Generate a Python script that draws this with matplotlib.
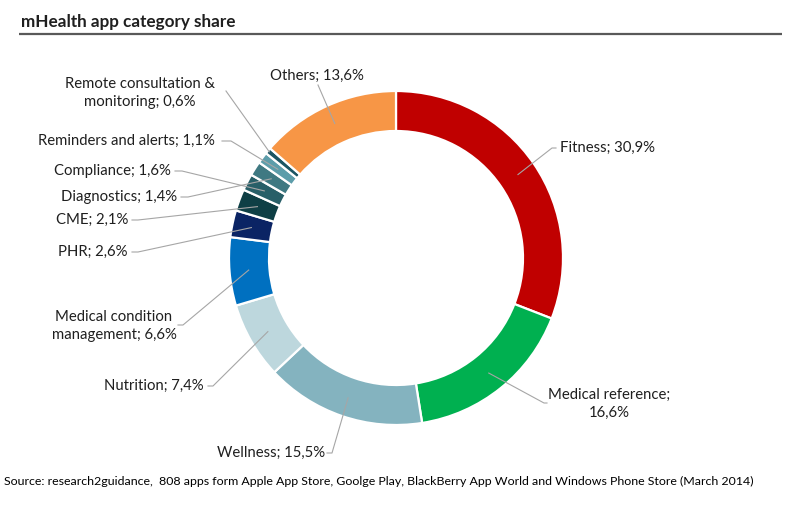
import matplotlib
matplotlib.use('Agg')
import matplotlib.pyplot as plt
import numpy as np

# ---------------- data ----------------
categories = ["Fitness", "Medical reference", "Wellness", "Nutrition",
              "Medical condition\nmanagement", "PHR", "CME", "Compliance",
              "Diagnostics", "Reminders and alerts",
              "Remote consultation &\nmonitoring", "Others"]
shares = [30.9, 16.6, 15.5, 7.4, 6.6, 2.6, 2.1, 1.6, 1.4, 1.1, 0.6, 13.6]
label_seps = [" ", "\n", " ", " ", " ", " ", " ", " ", " ", " ", " ", " "]
colors = ["#C00000", "#00B050", "#84B3BF", "#BDD7DD", "#0070C0", "#0B2464",
          "#0E3F45", "#285F68", "#3F7982", "#5D9DAA", "#1B5563", "#F79646"]

title = "mHealth app category share"
source = ("Source: research2guidance,  808 apps form Apple App Store, Goolge Play, "
          "BlackBerry App World and Windows Phone Store (March 2014)")

# ---------------- layout (pixels, y measured from top) ----------------
W, H = 800, 505
CX, CY, R, RING = 396, 258, 167, 40
# (text x, text y, ha, anchor x, anchor y, elbow dx, radial factor)
layout = [
    (560, 148, "left",   556, 148, -4, 0.885),   # Fitness
    (609, 404, "center", 547, 403, -3, 0.885),   # Medical reference
    (271, 453, "center", 327, 453,  5, 0.885),   # Wellness
    (204, 386, "right",  208, 386,  5, 0.885),   # Nutrition
    (114, 326, "center", 178, 325,  5, 0.885),   # MCM
    (128, 252, "right",  132, 252,  6, 0.885),   # PHR
    (128, 220, "right",  132, 220,  6, 0.885),   # CME
    (171, 171, "right",  175, 171,  7, 0.885),   # Compliance
    (177, 197, "right",  181, 197,  7, 0.885),   # Diagnostics
    (215, 141, "right",  222, 141,  9, 0.885),   # Reminders
    (140, 93,  "center", 226, 91,   0, 0.99),    # Remote
    (317, 76,  "center", 318, 85,   0, 0.885),   # Others
]

def P(x, y):
    return x, H - y

FONT = "Lato"
TXT = "#1f1f1f"

fig = plt.figure(figsize=(W / 100, H / 100), dpi=100)
ax = fig.add_axes([0, 0, 1, 1])
ax.set_axis_off()

wedges, _ = ax.pie(shares, colors=colors, startangle=90, counterclock=False,
                   radius=R, center=P(CX, CY),
                   wedgeprops=dict(width=RING, edgecolor="white", linewidth=1.6))
ax.set_xlim(0, W)
ax.set_ylim(0, H)
ax.set_aspect("equal", adjustable="box")

renderer = fig.canvas.get_renderer()

def fit(txt, target):
    bb = txt.get_window_extent(renderer)
    txt.set_fontsize(txt.get_fontsize() * target / bb.width)

# title and rule
t = ax.text(*P(21, 22), title, fontfamily=FONT, fontweight="bold", fontsize=12,
            color=TXT, ha="left", va="center")
fit(t, 214)
ax.plot([19, 782], [H - 34, H - 34], color="#595959", lw=1.6, solid_capstyle="butt")

# source
s = ax.text(*P(4, 481), source, fontfamily=FONT, fontsize=10, color="#000000",
            ha="left", va="center")
fit(s, 755)

# label font size from reference width of "Fitness; 30,9%"
def fmt(v):
    return f"{v:.1f}".replace(".", ",") + "%"

probe = ax.text(0, 0, categories[0] + ";" + label_seps[0] + fmt(shares[0]),
                fontfamily=FONT, fontsize=10)
fit(probe, 95)
lab_fs = probe.get_fontsize()
probe.remove()

for w, cat, v, sep, (tx, ty, ha, axp, ayp, edx, rf) in zip(
        wedges, categories, shares, label_seps, layout):
    label = cat + ";" + sep + fmt(v)
    ax.text(*P(tx, ty), label, fontfamily=FONT, fontsize=lab_fs, color=TXT,
            ha=ha, va="center", multialignment="center", linespacing=1.4)
    mid = np.deg2rad((w.theta1 + w.theta2) / 2)
    px = w.center[0] + rf * R * np.cos(mid)
    py = w.center[1] + rf * R * np.sin(mid)
    ax0, ay0 = P(axp, ayp)
    xs = [ax0, ax0 + edx, px]
    ys = [ay0, ay0, py]
    ax.plot(xs, ys, color="#A6A6A6", lw=0.8, zorder=5)

fig.savefig("out.png", dpi=100)
